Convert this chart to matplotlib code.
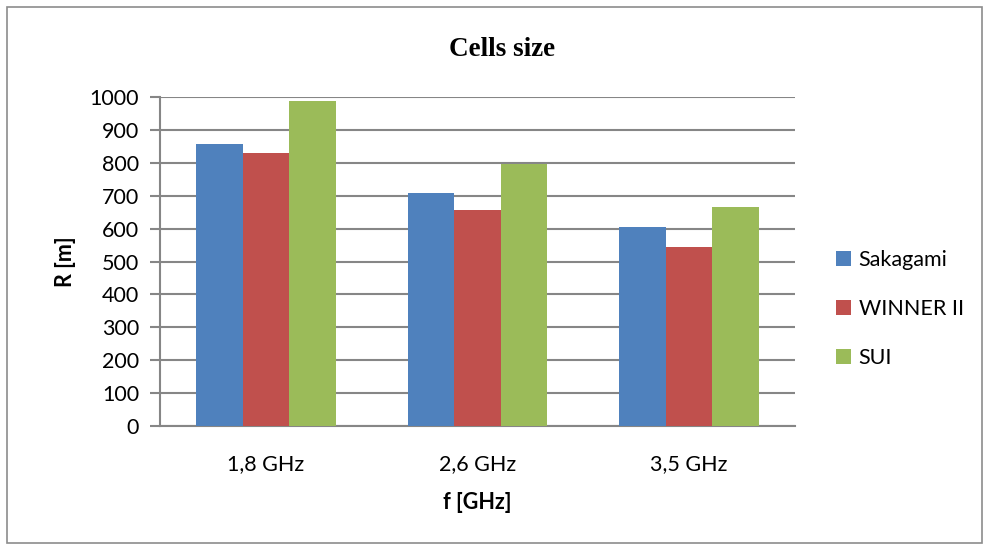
import matplotlib
matplotlib.use("Agg")
import matplotlib.pyplot as plt
import numpy as np
from matplotlib.patches import Rectangle

categories = ["1,8 GHz", "2,6 GHz", "3,5 GHz"]
series_names = ["Sakagami", "WINNER II", "SUI"]
sakagami = [856, 707, 605]
winner = [831, 657, 544]
sui = [987, 795, 667]
colors = ["#4F81BD", "#C0504D", "#9BBB59"]
yticks = list(range(0, 1001, 100))

fig = plt.figure(figsize=(9.83, 5.44), dpi=100)
fig.patches.append(Rectangle((7/983, 1/544), 975/983, 536/544, transform=fig.transFigure,
                             fill=False, edgecolor="#8C8C8C", linewidth=1.2))
ax = fig.add_axes([160/983, 1-426/544, 635/983, 329/544])

x = np.arange(len(categories))
w = 0.22
for i, (vals, c, n) in enumerate(zip([sakagami, winner, sui], colors, series_names)):
    ax.bar(x + (i-1)*w, vals, width=w, color=c, label=n, zorder=3)

ax.set_xlim(-0.5, 2.5)
ax.set_ylim(0, 1000)
ax.set_yticks(yticks)
ax.set_xticks(x)
ax.set_xticklabels(categories)
font = "Lato"
fs = 15.5
for lab in ax.get_yticklabels() + ax.get_xticklabels():
    lab.set_fontfamily(font)
    lab.set_fontsize(fs)
ax.grid(axis="y", color="#868686", linewidth=1.5, zorder=0)
for s in ["top", "right"]:
    ax.spines[s].set_visible(False)
ax.spines["left"].set_color("#868686")
ax.spines["left"].set_linewidth(1.5)
ax.spines["bottom"].set_color("#868686")
ax.spines["bottom"].set_linewidth(1.5)
ax.tick_params(axis="y", length=7, width=1.5, color="#868686", pad=8)
ax.tick_params(axis="x", length=0, pad=20)

ax.set_ylabel("R [m]", fontsize=fs, fontweight="bold", fontfamily=font, labelpad=10)
ax.set_xlabel("f [GHz]", fontsize=fs, fontweight="bold", fontfamily=font, labelpad=13)
fig.text(502/983, 1-50/544, "Cells size", ha="center", va="center",
         fontsize=19.5, fontweight="bold", fontfamily="Liberation Serif")

leg = ax.legend(loc="center left", bbox_to_anchor=(1.034, 0.355), frameon=False,
                prop={"family": font, "size": fs}, handlelength=0.7, handleheight=0.7,
                handletextpad=0.35, labelspacing=1.35)

fig.savefig("out.png", dpi=100)
